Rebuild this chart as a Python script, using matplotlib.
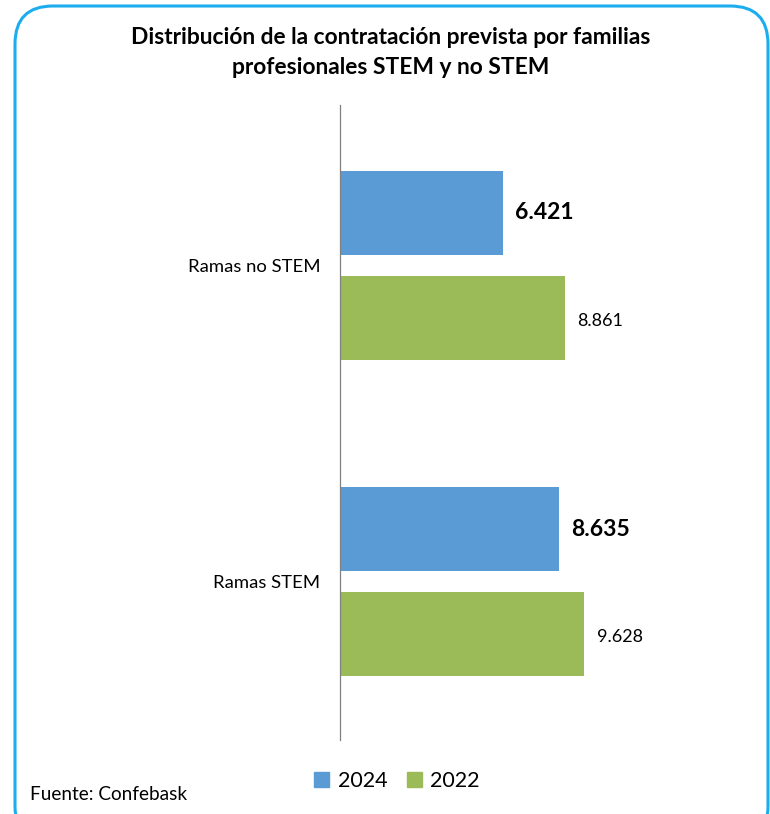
import matplotlib.pyplot as plt
from matplotlib.patches import FancyBboxPatch, Patch
from matplotlib.transforms import IdentityTransform

plt.rcParams['font.family'] = ['Lato', 'DejaVu Sans']

# Datos
categorias = ['Ramas no STEM', 'Ramas STEM']
valores_2024 = [6421, 8635]
valores_2022 = [8861, 9628]
etiquetas_2024 = ['6.421', '8.635']
etiquetas_2022 = ['8.861', '9.628']
azul = '#5B9BD5'
verde = '#9BBB59'

fig = plt.figure(figsize=(7.7, 8.14), dpi=100)
ax = fig.add_axes([340 / 770, 74 / 814, 400 / 770, 635 / 814])

pos = list(range(len(categorias)))
alto = 0.265
desp = 0.166
ax.barh([p - desp for p in pos], valores_2024, height=alto, color=azul)
ax.barh([p + desp for p in pos], valores_2022, height=alto, color=verde)

for p, v, t in zip(pos, valores_2024, etiquetas_2024):
    ax.text(v + 480, p - desp, t, va='center', ha='left', fontsize=16.5, fontweight='bold')
for p, v, t in zip(pos, valores_2022, etiquetas_2022):
    ax.text(v + 480, p + desp + 0.01, t, va='center', ha='left', fontsize=13)

ax.set_xlim(0, 400 / 0.02539)
ax.set_ylim(1.5, -0.507)
ax.set_yticks(pos)
ax.set_yticklabels(categorias, fontsize=13.3)
ax.tick_params(axis='y', length=0, pad=14)
ax.set_xticks([])
for s in ['top', 'right', 'bottom']:
    ax.spines[s].set_visible(False)
ax.spines['left'].set_color('#808080')
ax.spines['left'].set_linewidth(0.9)

fig.text(0.507, 1 - 38 / 814, 'Distribución de la contratación prevista por familias',
         ha='center', va='center', fontsize=16.4, fontweight='bold')
fig.text(0.507, 1 - 68 / 814, 'profesionales STEM y no STEM',
         ha='center', va='center', fontsize=16.4, fontweight='bold')

handles = [Patch(color=azul, label='2024'), Patch(color=verde, label='2022')]
fig.legend(handles=handles, loc='center', bbox_to_anchor=(397 / 770, 1 - 781 / 814),
           ncol=2, frameon=False, fontsize=15.5, handlelength=0.7, handleheight=0.7,
           handletextpad=0.4, columnspacing=0.9)

fig.text(30 / 770, 1 - 795 / 814, 'Fuente: Confebask', ha='left', va='center', fontsize=13.7)

borde = FancyBboxPatch((15, -30), 753, 838, boxstyle='round,pad=0,rounding_size=38',
                       transform=IdentityTransform(), fill=False, edgecolor='#1CADEE',
                       linewidth=2.2)
fig.patches.append(borde)

fig.savefig('out.png', dpi=100)
